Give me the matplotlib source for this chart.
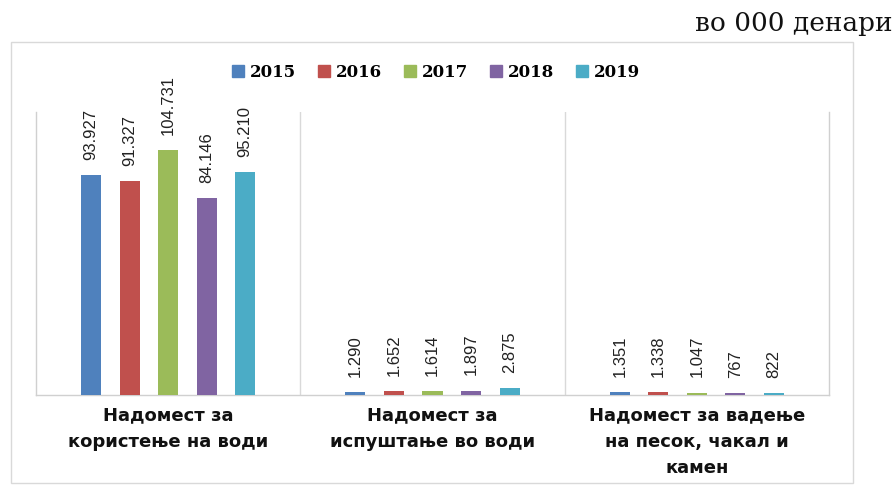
import matplotlib
matplotlib.use("Agg")
import matplotlib.pyplot as plt
from matplotlib.patches import Rectangle
from matplotlib.lines import Line2D
import numpy as np

categories = ["Надомест за\nкористење на води",
              "Надомест за\nиспуштање во води",
              "Надомест за вадење\nна песок, чакал и\nкамен"]
years = ["2015", "2016", "2017", "2018", "2019"]
v2015 = [93927, 1290, 1351]
v2016 = [91327, 1652, 1338]
v2017 = [104731, 1614, 1047]
v2018 = [84146, 1897, 767]
v2019 = [95210, 2875, 822]
series = [v2015, v2016, v2017, v2018, v2019]
colors = ["#4F81BD", "#C0504D", "#9BBB59", "#8064A2", "#4BACC6"]
unit_label = "во 000 денари"

W, H = 895, 486
fig = plt.figure(figsize=(W / 100, H / 100), dpi=100)
fig.patch.set_facecolor("white")

# outer frame
fig.patches.append(Rectangle((11 / W, 1 - 483 / H), 842 / W, 441 / H,
                             transform=fig.transFigure, fill=False,
                             edgecolor="#D9D9D9", linewidth=1.0))

ax = fig.add_axes([36 / W, 1 - 395 / H, 793 / W, 283 / H])
x = np.arange(len(categories))
spacing = 0.1457
bw = 0.0757
label_font = ["Liberation Sans", "DejaVu Sans"]
for i, (vals, c) in enumerate(zip(series, colors)):
    pos = x + (i - 2) * spacing
    ax.bar(pos, vals, width=bw, color=c, zorder=3)
    for p, v in zip(pos, vals):
        ax.annotate(f"{v:,}".replace(",", "."), (p, v), xytext=(0, 11),
                    textcoords="offset points", rotation=90, ha="center",
                    va="bottom", fontsize=12, family=label_font,
                    color="#222222")

ax.set_xlim(-0.5, 2.5)
ax.set_ylim(0, 121000)
ax.set_yticks([])
ax.set_xticks(x)
ax.set_xticklabels(categories, fontsize=13, fontweight="bold",
                   family="DejaVu Sans", linespacing=1.6, color="#111111")
ax.tick_params(axis="x", length=0, pad=8)
for b in [0.5, 1.5]:
    ax.axvline(b, color="#D9D9D9", linewidth=1.0, zorder=1)
for s in ["left", "right", "bottom"]:
    ax.spines[s].set_color("#D0D0D0")
    ax.spines[s].set_linewidth(1.0)
ax.spines["top"].set_visible(False)

handles = [Line2D([], [], marker="s", linestyle="none", markersize=8,
                  markerfacecolor=c, markeredgecolor=c) for c in colors]
ax.legend(handles, years, loc="center", bbox_to_anchor=(0.504, 1.141),
          ncol=5, frameon=False, handlelength=0.8, handletextpad=0.3,
          columnspacing=1.3,
          prop={"family": "DejaVu Serif", "weight": "bold", "size": 12})

fig.text(893 / W, 1 - 24 / H, unit_label, ha="right", va="center",
         fontsize=19, family="DejaVu Serif", color="#111111")

fig.savefig("out.png", dpi=100, facecolor="white")
